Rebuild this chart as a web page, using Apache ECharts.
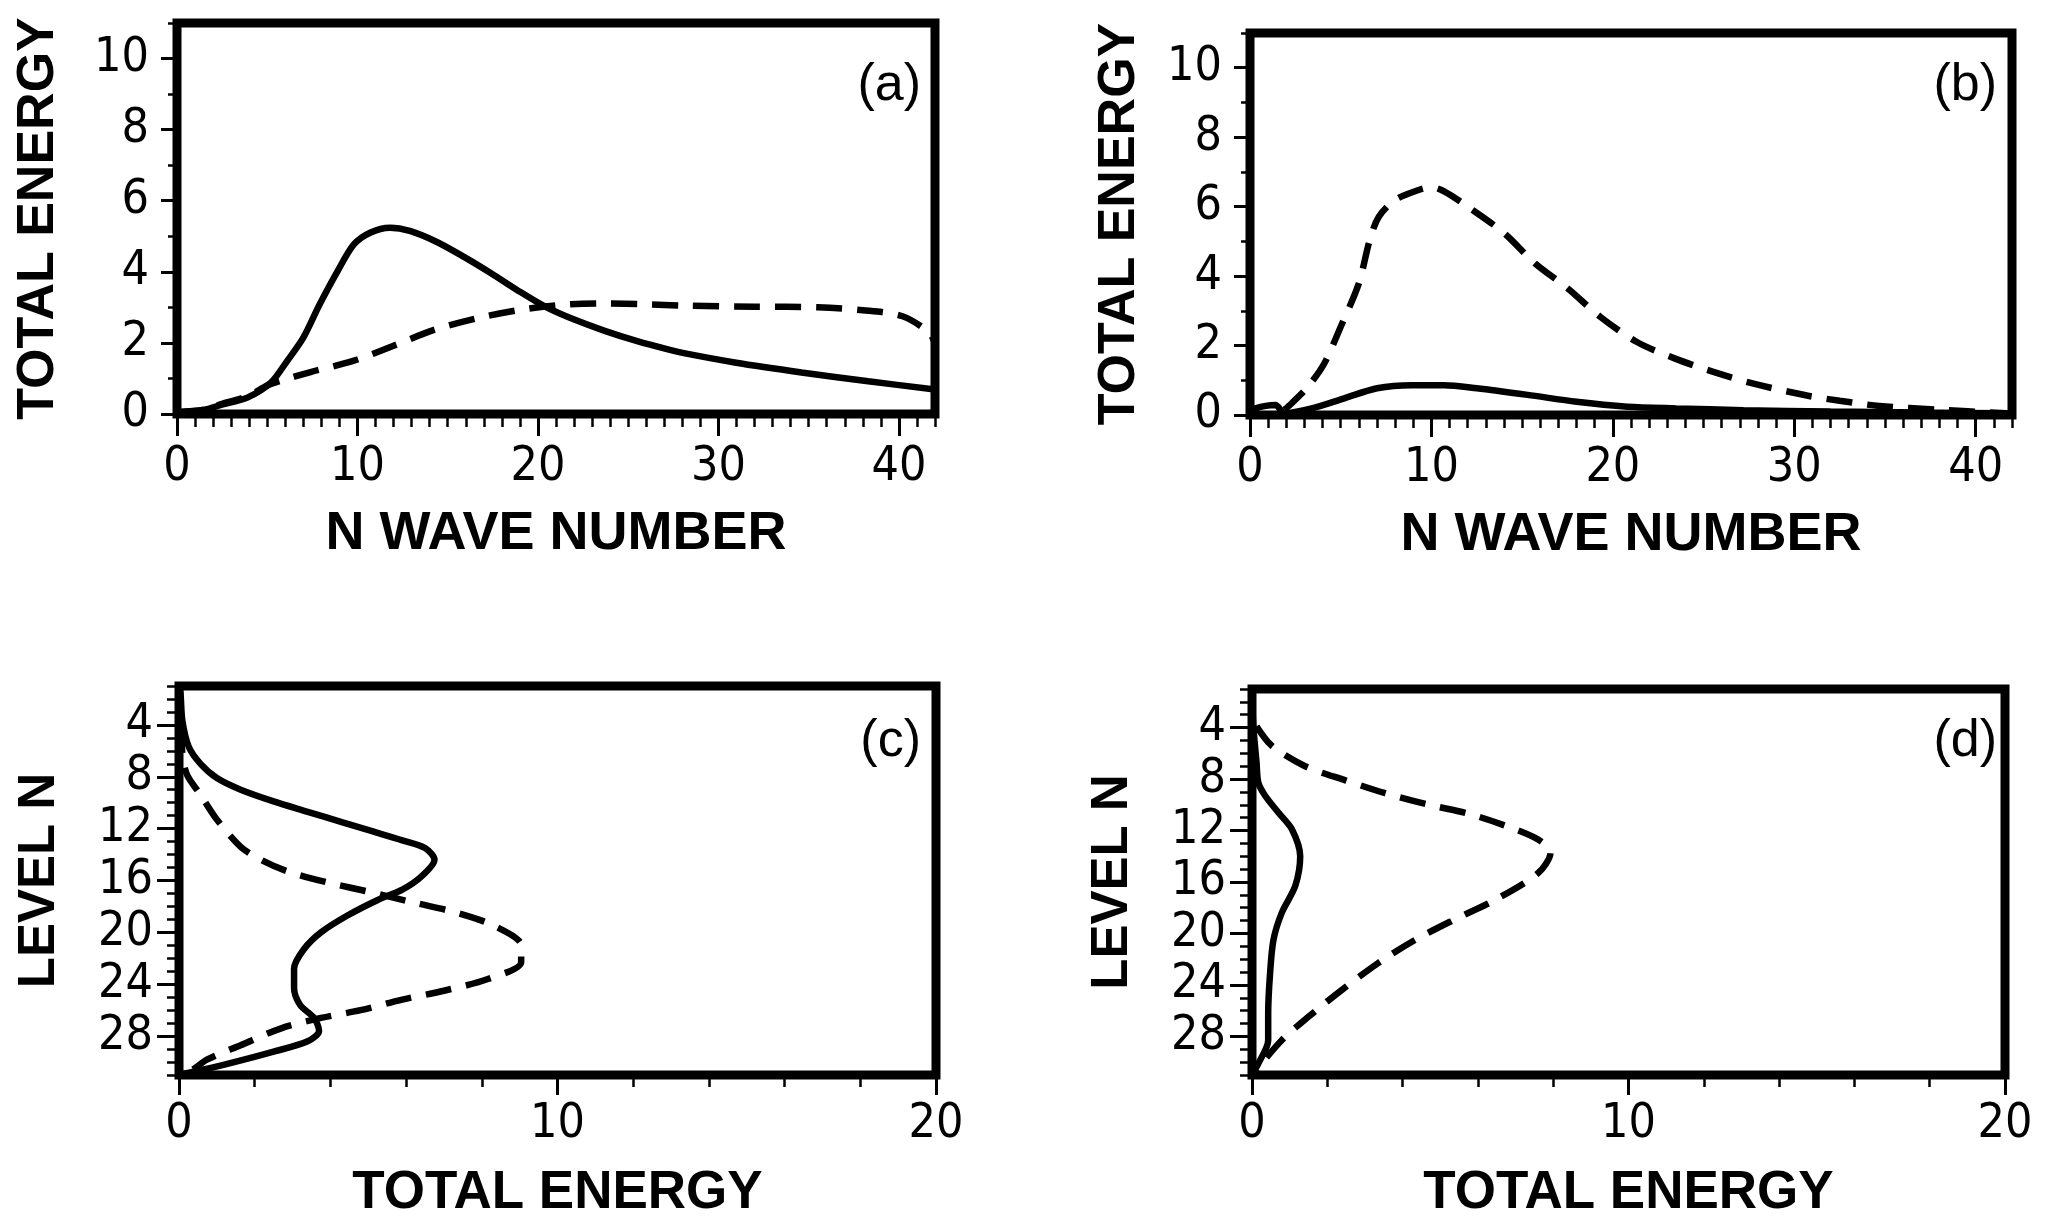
<!DOCTYPE html>
<html>
  <head>
    <meta charset="utf-8" />
    <title>Total energy</title>
    <script src="https://cdn.jsdelivr.net/npm/echarts@6.0.0/dist/echarts.min.js"></script>
    <style>
      html, body { margin: 0; padding: 0; background: #fff; }
      #chart { width: 2045px; height: 1221px; }
    </style>
  </head>
  <body>
    <div id="chart"></div>
    <script type="text/javascript">
      // panel (a): total energy vs N wave number
      const aSolidN = [0, 1.5, 2.4, 3.9, 5.2, 6.1, 7.0, 7.9, 8.9, 9.8, 10.7, 11.8, 12.9, 14.4, 15.9, 17.4, 18.9, 20.4, 21.8, 23.7, 25.5, 27.2, 28.3, 30.9, 34.6, 38.3, 42];
      const aSolidE = [0.05, 0.12, 0.25, 0.46, 0.88, 1.49, 2.15, 3.08, 4.02, 4.77, 5.1, 5.24, 5.15, 4.84, 4.42, 3.96, 3.47, 3.02, 2.7, 2.34, 2.05, 1.82, 1.69, 1.45, 1.17, 0.92, 0.69];
      const aDashN = [0, 1.5, 2.4, 3.9, 5.0, 5.7, 7.4, 9.8, 12.0, 14.2, 16.6, 18.9, 21.3, 23.7, 25.9, 28.1, 32, 35.5, 38, 40.2, 41.7, 42];
      const aDashE = [0.05, 0.12, 0.27, 0.5, 0.8, 0.93, 1.18, 1.5, 1.92, 2.36, 2.69, 2.92, 3.07, 3.11, 3.09, 3.05, 3.02, 3.0, 2.92, 2.75, 2.28, 1.97];

      // panel (b)
      const bSolidN = [0, 0.3, 1.4, 1.9, 3.4, 5.2, 7.0, 8.9, 10.7, 12.5, 15.3, 18.0, 20.8, 23.5, 27.2, 32, 37, 42];
      const bSolidE = [0.05, 0.19, 0.29, 0.05, 0.19, 0.48, 0.77, 0.86, 0.86, 0.77, 0.58, 0.38, 0.24, 0.19, 0.14, 0.1, 0.07, 0.05];
      const bDashN = [1.9, 2.3, 3.2, 4.1, 5.0, 6.0, 6.6, 7.1, 8.0, 9.3, 10.0, 10.7, 12.0, 14.0, 15.7, 17.5, 19.3, 21.3, 23.4, 25.5, 27.7, 30.7, 32.5, 34.7, 38, 41.6];
      const bDashE = [0.15, 0.34, 0.82, 1.49, 2.54, 3.79, 5.04, 5.71, 6.19, 6.48, 6.56, 6.44, 6.0, 5.24, 4.37, 3.65, 2.83, 2.11, 1.63, 1.25, 0.91, 0.56, 0.41, 0.26, 0.15, 0.05];

      // panel (c): total energy vs level
      const cSolidE = [0, 0.04, 0.09, 0.26, 0.57, 1.0, 1.63, 2.5, 3.4, 4.3, 5.1, 5.9, 6.5, 6.75, 6.4, 5.9, 5.25, 4.45, 3.75, 3.3, 3.04, 3.04, 3.2, 3.57, 3.7, 3.4, 2.5, 1.2, 0.3, 0];
      const cSolidL = [1, 1.6, 3.7, 5.7, 7.0, 8.1, 9.0, 9.9, 10.7, 11.5, 12.2, 12.9, 13.5, 14.4, 15.7, 16.7, 17.5, 18.7, 20.0, 21.3, 22.8, 24.3, 25.6, 26.6, 27.6, 28.4, 29.2, 30.2, 30.8, 31];
      const cDashE = [0, 0.05, 0.1, 0.22, 0.57, 1.0, 1.63, 2.16, 2.87, 4.0, 5.07, 6.2, 7.36, 8.33, 9.04, 9.04, 8.16, 7.0, 5.87, 4.8, 3.75, 2.7, 1.63, 0.75, 0.3, 0];
      const cDashL = [1, 4, 6.5, 7.9, 9.4, 11.3, 13.4, 14.4, 15.3, 16.2, 16.9, 17.7, 18.5, 19.5, 21.0, 22.3, 23.6, 24.5, 25.2, 26.0, 26.6, 27.4, 28.7, 29.8, 30.7, 31];

      // panel (d)
      const dSolidE = [0, 0.02, 0.04, 0.12, 0.17, 0.35, 0.7, 1.06, 1.28, 1.15, 0.79, 0.57, 0.48, 0.43, 0.43, 0.17, 0];
      const dSolidL = [1, 3, 4.1, 6.7, 8.3, 9.3, 10.6, 11.9, 14.0, 16.3, 18.4, 20.5, 23.1, 26.2, 28.3, 30.1, 31];
      const dDashE = [0.12, 0.52, 1.41, 2.48, 3.54, 4.7, 5.76, 6.8, 7.6, 7.93, 7.6, 6.45, 5.39, 4.33, 3.35, 2.38, 1.49, 0.79, 0.17, 0];
      const dDashL = [3.9, 5.4, 7.0, 8.1, 9.1, 10.0, 10.7, 11.7, 12.7, 13.7, 15.3, 17.4, 18.9, 20.5, 22.3, 24.4, 26.5, 28.3, 30.4, 31];

      // tick labels
      const waveTicks = [0, 10, 20, 30, 40];
      const energyTicksTop = [0, 2, 4, 6, 8, 10];
      const energyTicksBottom = [0, 10, 20];
      const levelTicks = [4, 8, 12, 16, 20, 24, 28];
      const panelLabels = ['(a)', '(b)', '(c)', '(d)'];

      const tickFont = "'Liberation Sans Narrow', 'Arial Narrow', 'DejaVu Sans Condensed', sans-serif";
      const nameFont = "'Liberation Sans', Arial, sans-serif";

      function pairs(xs, ys) {
        return xs.map((x, i) => [x, ys[i]]);
      }
      function steps(a, b, step) {
        const out = [];
        for (let v = a; v <= b + 1e-9; v += step) out.push(v);
        return out;
      }

      const grids = [
        { left: 177, top: 23, width: 758, height: 391 },
        { left: 1250, top: 33, width: 762, height: 382 },
        { left: 179, top: 686, width: 757, height: 391 },
        { left: 1252, top: 689, width: 753, height: 386 }
      ].map(g => Object.assign(g, { show: true, borderColor: '#000', borderWidth: 9 }));

      function mainAxis(opts) {
        return {
          gridIndex: opts.grid,
          type: 'value',
          min: opts.min,
          max: opts.max,
          inverse: !!opts.inverse,
          position: opts.pos,
          name: opts.name,
          nameLocation: 'middle',
          nameGap: opts.nameGap,
          nameTextStyle: { color: '#000', fontFamily: nameFont, fontWeight: 'bold', fontSize: opts.nameSize },
          axisLine: { onZero: false, lineStyle: { color: '#000', width: 7 } },
          axisTick: { customValues: opts.ticks, length: opts.majorLen, lineStyle: { color: '#000', width: 3 } },
          axisLabel: { customValues: opts.ticks, margin: opts.margin, color: '#000', fontFamily: tickFont, fontSize: 48 },
          splitLine: { show: false }
        };
      }
      function minorAxis(opts) {
        return {
          gridIndex: opts.grid,
          type: 'value',
          min: opts.min,
          max: opts.max,
          inverse: !!opts.inverse,
          position: opts.pos,
          axisLine: { show: false },
          axisTick: { customValues: opts.ticks, length: opts.len, lineStyle: { color: '#000', width: 2.5 } },
          axisLabel: { show: false },
          splitLine: { show: false }
        };
      }

      const xAxes = [];
      const yAxes = [];
      [0, 1].forEach(g => {
        xAxes.push(mainAxis({ grid: g, min: 0, max: 42, pos: 'bottom', name: 'N WAVE NUMBER', nameGap: 93, nameSize: 54, ticks: waveTicks, majorLen: 22, margin: 30 }));
        xAxes.push(minorAxis({ grid: g, min: 0, max: 42, pos: 'bottom', ticks: steps(0, 42, 1), len: 13 }));
        yAxes.push(mainAxis({ grid: g, min: 0, max: 11, pos: 'left', name: 'TOTAL ENERGY', nameGap: g === 0 ? 112 : 104, nameSize: 52, ticks: energyTicksTop, majorLen: 16, margin: 28 }));
        yAxes.push(minorAxis({ grid: g, min: 0, max: 11, pos: 'left', ticks: steps(0, 11, 1), len: 9 }));
      });
      [2, 3].forEach(g => {
        xAxes.push(mainAxis({ grid: g, min: 0, max: 20, pos: 'bottom', name: 'TOTAL ENERGY', nameGap: 92, nameSize: 53, ticks: energyTicksBottom, majorLen: 20, margin: 26 }));
        xAxes.push(minorAxis({ grid: g, min: 0, max: 20, pos: 'bottom', ticks: steps(0, 20, 2), len: 12 }));
        yAxes.push(mainAxis({ grid: g, min: 1, max: 31, inverse: true, pos: 'left', name: 'LEVEL N', nameGap: 114, nameSize: 51, ticks: levelTicks, majorLen: 22, margin: 26 }));
        yAxes.push(minorAxis({ grid: g, min: 1, max: 31, inverse: true, pos: 'left', ticks: steps(1, 31, 1), len: 12 }));
      });

      const curves = [
        [pairs(aSolidN, aSolidE), pairs(aDashN, aDashE)],
        [pairs(bSolidN, bSolidE), pairs(bDashN, bDashE)],
        [pairs(cSolidE, cSolidL), pairs(cDashE, cDashL)],
        [pairs(dSolidE, dSolidL), pairs(dDashE, dDashL)]
      ];
      const series = [];
      curves.forEach((c, g) => {
        series.push({
          type: 'line', xAxisIndex: g * 2, yAxisIndex: g * 2, data: c[0],
          symbol: 'none', smooth: 0.3, z: 3,
          lineStyle: { color: '#000', width: 6.5 }
        });
        series.push({
          type: 'line', xAxisIndex: g * 2, yAxisIndex: g * 2, data: c[1],
          symbol: 'none', smooth: 0.3, z: 3,
          lineStyle: { color: '#000', width: 6.5, type: [26, 15] }
        });
      });

      const labelPos = [
        { right: 1124, top: 60 },
        { right: 48, top: 60 },
        { right: 1124, top: 716 },
        { right: 48, top: 716 }
      ];
      const titles = panelLabels.map((t, i) => Object.assign({
        text: t, padding: 0,
        textStyle: { color: '#000', fontFamily: nameFont, fontWeight: 'normal', fontSize: 52 }
      }, labelPos[i]));

      const chart = echarts.init(document.getElementById('chart'));
      chart.setOption({
        animation: false,
        backgroundColor: '#fff',
        title: titles,
        grid: grids,
        xAxis: xAxes,
        yAxis: yAxes,
        series: series
      });
    </script>
  </body>
</html>
